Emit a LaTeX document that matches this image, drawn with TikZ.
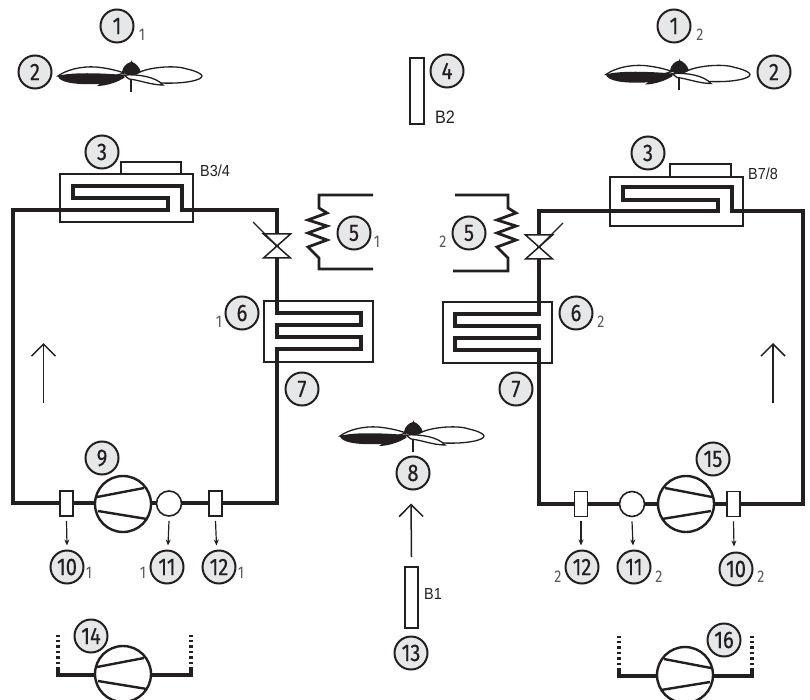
\documentclass[tikz,border=0pt]{standalone}
\usepackage{fontspec}
\usetikzlibrary{arrows.meta}
\newfontfamily\numfont[FakeStretch=0.84,FakeBold=0.35]{Fira Sans}
\newfontfamily\subfont[FakeStretch=0.84]{Fira Sans}
\newfontfamily\labfont[FakeStretch=0.9]{Liberation Sans}
\definecolor{ink}{HTML}{231F20}
\definecolor{disc}{HTML}{E6E7E8}
\definecolor{subc}{HTML}{58595B}
\tikzset{
  x=1pt,y=-1pt,
  pipe/.style={draw=ink,line width=4pt,line cap=butt,line join=miter},
  thinpipe/.style={draw=ink,line width=2.8pt,line join=miter},
  boxline/.style={draw=ink,line width=1.4pt,fill=none},
  callout/.style={circle,draw=ink,line width=2pt,fill=disc,minimum size=33pt,inner sep=0pt,font=\numfont\fontsize{24}{24}\selectfont,text=ink},
  sub/.style={inner sep=0pt,text=subc,font=\subfont\fontsize{17}{17}\selectfont},
  lab/.style={inner sep=0pt,text=ink,font=\labfont\fontsize{16}{16}\selectfont},
  sensor/.style={rectangle,draw=ink,line width=1.8pt,fill=white,minimum width=13pt,minimum height=25pt,inner sep=0pt},
  tallsensor/.style={rectangle,draw=ink,line width=1.8pt,fill=white,minimum width=13pt,inner sep=0pt},
  pressure/.style={circle,draw=ink,line width=1.6pt,fill=white,minimum size=25pt,inner sep=0pt},
  smallarrow/.style={draw=ink,line width=1.2pt,-{Stealth[length=6pt,width=5pt]}},
  airarrow/.style={draw=ink,line width=1.5pt,-{Straight Barb[length=12pt,width=24pt,line width=1.5pt]}},
  dots/.style={draw=ink,line width=4pt,dash pattern=on 2.4pt off 3pt},
  fan/.pic={
    \draw[ink,line width=1.3pt] (0,6) -- (0,20);
    \draw[ink,line width=1.3pt,fill=white] (9,0) .. controls (20,-5) and (45,-7) .. (56,-3)
      .. controls (65,-1) and (71,2) .. (71,4) .. controls (71,8) and (55,12) .. (30,11)
      .. controls (20,9) and (10,6) .. (2,3) -- cycle;
    \draw[ink,line width=1.3pt,fill=white] (-73,4) .. controls (-65,-2) and (-50,-6) .. (-35,-5)
      .. controls (-25,-4) and (-15,-2) .. (-7,1) -- (-30,8) -- cycle;
    \fill[ink] (-73,4) .. controls (-72,10) and (-58,13) .. (-34,12)
      .. controls (-25,11.5) and (-15,9) .. (-7,6) -- (-7,3)
      .. controls (-30,1) and (-60,0) .. (-73,4) -- cycle;
    \fill[ink] (-34,14) .. controls (-25,14) and (-12,10) .. (-6,5) -- (-22,5) -- cycle;
    \draw[ink,line width=1.3pt,fill=white] (-7,3) .. controls (8,2) and (25,5) .. (32,13)
      .. controls (20,13) and (8,8) .. (-2,7) -- cycle;
    \fill[ink] (-9,0) .. controls (-8,-6) and (-4,-9) .. (0,-10) -- (0,-12) -- (1,-10)
      .. controls (4,-9) and (8,-6) .. (10,0) .. controls (5,4) and (-4,4) .. (-9,0) -- cycle;
  },
  comp/.pic={
    \draw[ink,line width=2.4pt,fill=white] (0,0) circle[radius=28];
    \draw[ink,line width=2.4pt] (-26,-7) -- (21,-16) (-25,7) -- (24,15);
  },
  valve/.pic={
    \draw[ink,line width=1.5pt,fill=white,line join=miter] (-13.5,-12) -- (13.5,-12) -- (-13.5,12) -- (13.5,12) -- cycle;
  }
}
\begin{document}
\begin{tikzpicture}
\useasboundingbox (0,0) rectangle (810,700);
\clip (0,0) rectangle (810,700);

% ---------- left circuit boxes
\draw[boxline] (60,174) rectangle (193,222);
\draw[boxline] (121,162) rectangle (181,174);
\draw[boxline] (264,301) rectangle (373,362);
% ---------- right circuit boxes
\draw[boxline] (610,177) rectangle (743,226);
\draw[boxline] (670,164) rectangle (731,177);
\draw[boxline] (443,302) rectangle (552,363);

% ---------- left refrigerant loop
\draw[pipe] (168,210) -- (13,210) -- (13,503) -- (277,503) -- (277,349) -- (361,349) -- (361,337)
  -- (277,337) -- (277,325) -- (361,325) -- (361,313) -- (277,313) -- (277,210) -- (182,210)
  -- (182,186) -- (73,186) -- (73,198) -- (168,198) -- cycle;
% ---------- right refrigerant loop
\draw[pipe] (718,211) -- (539,211) -- (539,314) -- (455,314) -- (455,326) -- (539,326) -- (539,338)
  -- (455,338) -- (455,350) -- (539,350) -- (539,504) -- (803,504) -- (803,211) -- (732,211)
  -- (732,187) -- (623,187) -- (623,200) -- (718,200) -- cycle;

% ---------- heaters
\draw[thinpipe] (373,195) -- (319,195) -- (319,208) -- (327,213) -- (308,220) -- (327,226) -- (308,233)
  -- (327,240) -- (308,247) -- (319,258) -- (319,269) -- (373,269);
\draw[thinpipe] (455,195) -- (508,195) -- (508,208) -- (516,213) -- (497,220) -- (516,226) -- (497,233)
  -- (516,240) -- (497,247) -- (508,258) -- (508,271) -- (453,271);

% ---------- expansion valves
\pic at (277,246) {valve};
\pic at (539,247) {valve};
\coordinate (vla) at (253,222); \coordinate (vlb) at (277,246);
\coordinate (vra) at (563,223); \coordinate (vrb) at (539,247);
\draw[ink,line width=1.3pt] (vla) -- (vlb);
\draw[ink,line width=1.3pt] (vra) -- (vrb);

% ---------- compressors
\pic at (123,504) {comp};
\pic[xscale=-1] at (686,504) {comp};
\draw[pipe] (58,667) -- (58,675) -- (191,675) -- (191,667);
\draw[pipe] (619,668) -- (619,676) -- (752,676) -- (752,668);
\draw[dots] (58,664) -- (58,634);
\draw[dots] (191,664) -- (191,634);
\draw[dots] (619,665) -- (619,636);
\draw[dots] (752,665) -- (752,636);
\pic at (123,674) {comp};
\pic[xscale=-1] at (685,675) {comp};

% ---------- fans
\pic at (131,72) {fan};
\pic at (679,70.5) {fan};
\pic at (413,432) {fan};

% ---------- sensors
\node[sensor] (sa) at (66.5,503.5) {};
\node[pressure] (pa) at (169,503.5) {};
\node[sensor] (sb) at (215.5,503.5) {};
\node[sensor] (sc) at (581,504) {};
\node[pressure] (pb) at (632,504) {};
\node[sensor] (sd) at (733.5,504) {};
\node[tallsensor,minimum height=66pt,minimum width=14pt] (btwo) at (417,91) {};
\node[tallsensor,minimum height=61pt] (bone) at (411.5,597.5) {};

% ---------- callouts
\node[callout] (c1a) at (117,26) {1};
\node[callout] (c1b) at (674,26) {1};
\node[callout] (c2a) at (35,72) {2};
\node[callout] (c2b) at (774,72) {2};
\node[callout] (c3a) at (102,152) {3};
\node[callout] (c3b) at (648,153) {3};
\node[callout] (c4) at (447,71) {4};
\node[callout] (c5a) at (354,233) {5};
\node[callout] (c5b) at (469,233) {5};
\node[callout] (c6a) at (242,313) {6};
\node[callout] (c6b) at (576,313) {6};
\node[callout] (c7a) at (302,389) {7};
\node[callout] (c7b) at (516,389) {7};
\node[callout] (c8) at (413,473) {8};
\node[callout] (c9) at (102,458) {9};
\node[callout] (c10a) at (67,567) {10};
\node[callout] (c11a) at (167,567) {11};
\node[callout] (c12a) at (219,567) {12};
\node[callout] (c12b) at (582,567) {12};
\node[callout] (c11b) at (634,567) {11};
\node[callout] (c10b) at (736,569) {10};
\node[callout] (c13) at (411,653) {13};
\node[callout] (c14) at (91,636) {14};
\node[callout] (c15) at (713,459) {15};
\node[callout] (c16) at (724,640) {16};

% ---------- subscripts
\node[sub] (s1) at (142,35) {1};
\node[sub] (s2) at (700,35) {2};
\node[sub] (s3) at (377,242) {1};
\node[sub] (s4) at (443,242) {2};
\node[sub] (s5) at (219,322) {1};
\node[sub] (s6) at (601,322) {2};
\node[sub] (s7) at (89,573) {1};
\node[sub] (s8) at (143,573) {1};
\node[sub] (s9) at (241,573) {1};
\node[sub] (s10) at (558,577) {2};
\node[sub] (s11) at (659,577) {2};
\node[sub] (s12) at (761,577) {2};

% ---------- labels
\node[lab] (l1) at (215,171) {B3/4};
\node[lab] (l2) at (763,174) {B7/8};
\node[lab,font=\labfont\fontsize{18}{18}\selectfont] (l3) at (445,117) {B2};
\node[lab] (l4) at (433,594) {B1};

% ---------- signal arrows
\draw[smallarrow] ([yshift=-4pt]sa.south) -- ([yshift=4pt]c10a.north);
\draw[smallarrow] ([yshift=-4pt]pa.south) -- ([yshift=4pt,xshift=1pt]c11a.north);
\draw[smallarrow] ([yshift=-4pt]sb.south) -- ([yshift=4pt,xshift=-2.5pt]c12a.north);
\draw[smallarrow] ([yshift=-4pt]sc.south) -- ([yshift=4pt,xshift=-1pt]c12b.north);
\draw[smallarrow] ([yshift=-4pt]pb.south) -- ([yshift=4pt,xshift=-1pt]c11b.north);
\draw[smallarrow] ([yshift=-4pt]sd.south) -- ([yshift=5pt,xshift=-2pt]c10b.north);

% ---------- air flow arrows
\coordinate (ala) at (43.5,403); \coordinate (alb) at (43.5,343);
\coordinate (ara) at (773,403); \coordinate (arb) at (773,343);
\draw[airarrow] (ala) -- (alb);
\draw[airarrow] (ara) -- (arb);
\draw[airarrow] ([yshift=9pt]bone.north) -- ([yshift=-13pt,xshift=-2pt]c8.south);
\end{tikzpicture}
\end{document}
